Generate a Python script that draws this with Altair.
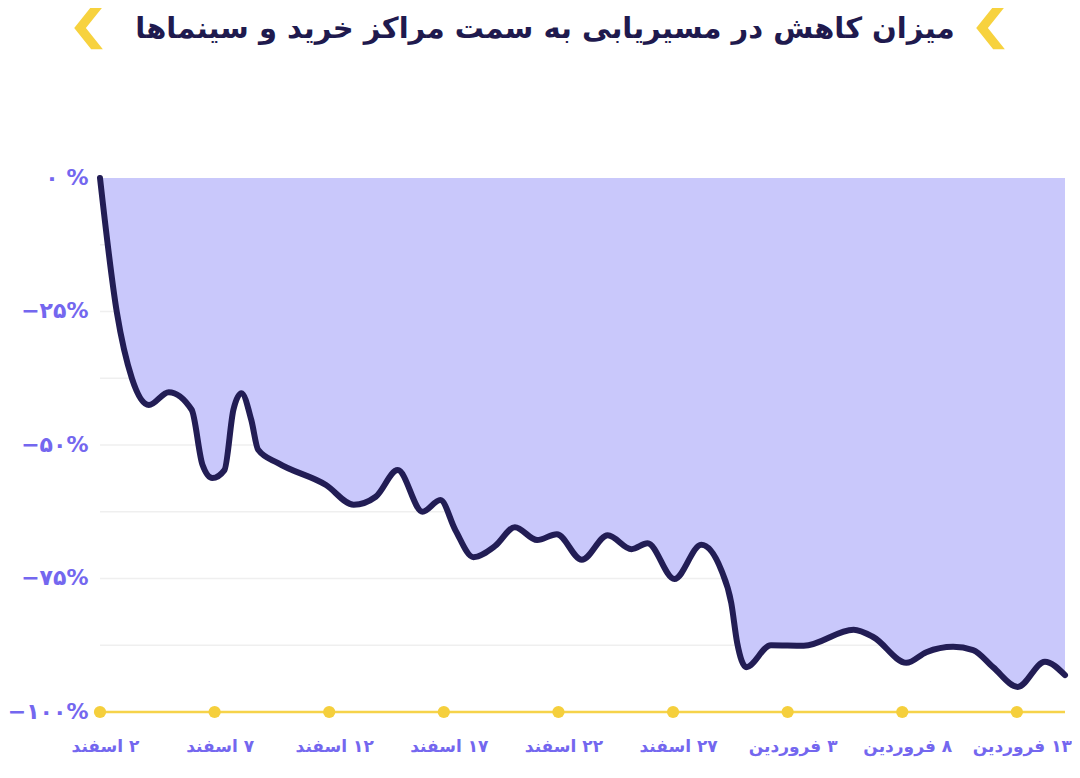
import altair as alt
import pandas as pd

# ---- data (day index from 2 Esfand, % change) ----
days = [0, 0.74, 1.39, 2.13, 3.0, 4.0, 4.47, 4.9, 5.43, 5.82,
        6.17, 6.6, 6.9, 7.77, 9.86, 11.07, 12.03, 12.99, 14.07, 14.85,
        15.5, 16.29, 17.24, 18.1, 19.07, 19.93, 21.02, 22.15, 23.19, 23.89,
        25.06, 26.23, 27.1, 27.54, 27.8, 28.19, 29.27, 30.7, 32.88, 33.75,
        35.18, 36.05, 37.22, 38.09, 38.96, 40.04, 41.22, 42.1]
values = [0, -25.3, -37.5, -42.5, -40.1, -43.4, -53.7, -56.2, -54.7, -43.4,
          -40.3, -45.3, -50.9, -53.4, -57.5, -61.2, -59.7, -54.7, -62.5, -60.3,
          -65.9, -71, -68.9, -65.4, -67.8, -66.7, -71.5, -66.9, -69.5, -68.4,
          -75.1, -68.7, -73.4, -79.6, -87.1, -91.6, -87.5, -87.6, -84.6, -86,
          -90.8, -88.8, -87.8, -88.4, -91.6, -95.3, -90.6, -93.1]

tick_days = [0, 5, 10, 15, 20, 25, 30, 35, 40]
tick_labels = ["۲ اسفند", "۷ اسفند", "۱۲ اسفند", "۱۷ اسفند", "۲۲ اسفند",
               "۲۷ اسفند", "۳ فروردین", "۸ فروردین", "۱۳ فروردین"]

y_ticks = [0, -25, -50, -75, -100]
y_labels = ["۰ %", "−۲۵%", "−۵۰%", "−۷۵%", "−۱۰۰%"]

grid_values = [-12.5, -25, -37.5, -50, -62.5, -75, -87.5]

title_text = "میزان کاهش  در مسیریابی به سمت مراکز خرید و سینماها"

# ---- helpers ----
RLM = "\u200f"


def label_expr(vals, labels, prefix=""):
    expr = "''"
    for v, l in reversed(list(zip(vals, labels))):
        expr = f"datum.value == {v} ? '{prefix}{l}' : {expr}"
    return expr


FONT = "DejaVu Sans"
LABEL_COLOR = "#7467ef"
X_MAX = 42.1
x_scale = alt.Scale(domain=[0, X_MAX], nice=False, zero=False)
y_scale = alt.Scale(domain=[-100, 0], nice=False)

x_axis = alt.Axis(values=tick_days, labelExpr=label_expr(tick_days, tick_labels, RLM),
                  domain=False, ticks=False, grid=False, labelPadding=26,
                  labelFont=FONT, labelFontSize=17, labelFontWeight="bold",
                  labelColor=LABEL_COLOR, labelAlign="center", labelFlush=False,
                  labelOffset=5, title=None)
y_axis = alt.Axis(values=y_ticks, labelExpr=label_expr(y_ticks, y_labels),
                  domain=False, ticks=False, grid=False, labelPadding=12,
                  labelFont=FONT, labelFontSize=22, labelFontWeight="bold",
                  labelColor=LABEL_COLOR, labelOffset=-1, labelFlush=False, title=None)

df = pd.DataFrame({"day": days, "value": values})
df_grid = pd.DataFrame({"g": grid_values})
df_ticks = pd.DataFrame({"day": tick_days, "base": [-100] * len(tick_days)})
one = pd.DataFrame({"a": [0]})

grid = alt.Chart(df_grid).mark_rule(color="#efefef", strokeWidth=1.5).encode(
    y=alt.Y("g:Q", scale=y_scale, axis=y_axis, title=None),
    x=alt.XDatum(0, scale=x_scale, axis=x_axis, title=None),
    x2=alt.datum(X_MAX),
)

area = alt.Chart(df).mark_area(color="#c9c8fb", opacity=1, interpolate="monotone").encode(
    x=alt.X("day:Q", scale=x_scale, axis=x_axis, title=None),
    y=alt.Y("value:Q", scale=y_scale, axis=y_axis, title=None),
    y2=alt.datum(0),
)

line = alt.Chart(df).mark_line(color="#221d55", strokeWidth=6, interpolate="monotone",
                               strokeCap="round", strokeJoin="round").encode(
    x=alt.X("day:Q", scale=x_scale, axis=x_axis, title=None),
    y=alt.Y("value:Q", scale=y_scale, axis=y_axis, title=None),
)

base_rule = alt.Chart(one).mark_rule(color="#f6d34a", strokeWidth=2.5).encode(
    y=alt.YDatum(-100, scale=y_scale, axis=y_axis, title=None),
    x=alt.XDatum(0, scale=x_scale, axis=x_axis, title=None),
    x2=alt.datum(X_MAX),
)

dots = alt.Chart(df_ticks).mark_circle(color="#f5cf3c", size=150, opacity=1).encode(
    x=alt.X("day:Q", scale=x_scale, axis=x_axis, title=None),
    y=alt.Y("base:Q", scale=y_scale, axis=y_axis, title=None),
)

title = alt.Chart(one).mark_text(text=title_text, font=FONT, fontSize=29, fontWeight="bold",
                                 color="#1f1a4e", align="center", baseline="middle").encode(
    x=alt.value(445), y=alt.value(-149),
)

chevron_path = "M 0.15 -1 L 0.7 -1 L -0.1 0 L 0.7 1 L 0.15 1 L -0.65 0 Z"
chev_left = alt.Chart(one).mark_point(shape=chevron_path, filled=True, color="#f7d23e",
                                      size=1800, opacity=1).encode(
    x=alt.value(-12), y=alt.value(-150),
)
chev_right = alt.Chart(one).mark_point(shape=chevron_path, filled=True, color="#f7d23e",
                                       size=1800, opacity=1).encode(
    x=alt.value(890), y=alt.value(-150),
)

chart = alt.layer(grid, area, line, base_rule, dots, title, chev_left, chev_right).properties(
    width=965, height=534,
    padding={"left": 92, "top": 170, "right": 7, "bottom": 50},
    autosize="none",
    background="white",
).configure_view(stroke=None)

chart.save("out.html", embed_options={"renderer": "svg", "actions": False})
